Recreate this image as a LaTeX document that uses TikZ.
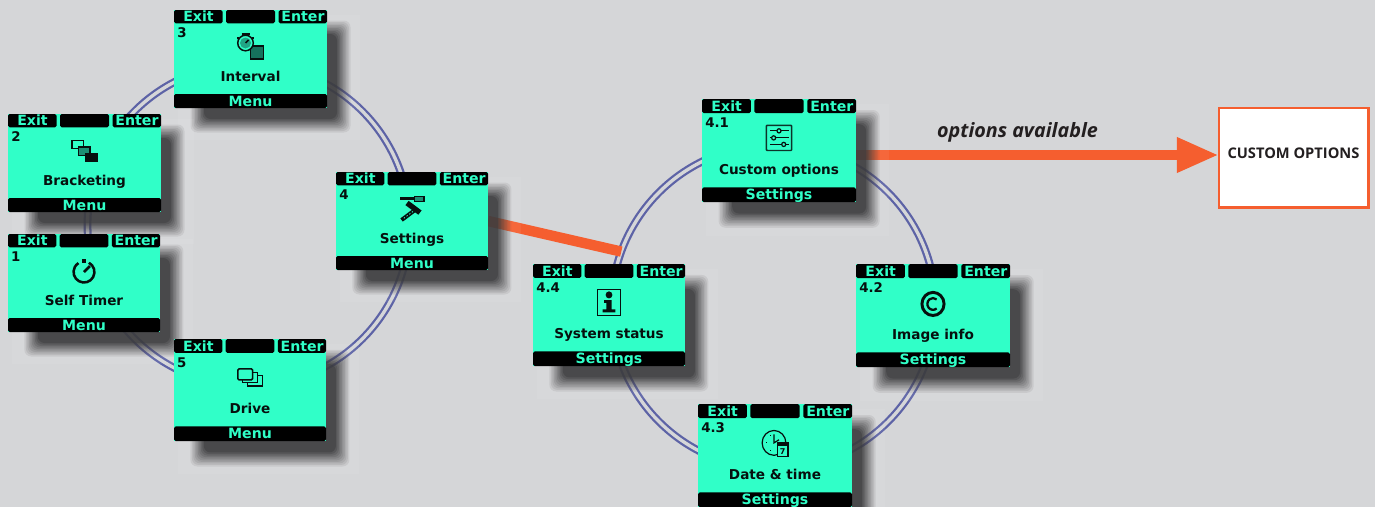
\documentclass[tikz,border=0pt]{standalone}
\usepackage{fontspec}
\setmainfont{DejaVu Sans}
\newfontfamily\humanfont{Open Sans}
\usetikzlibrary{arrows.meta}
\definecolor{pagegrey}{HTML}{D5D6D8}
\definecolor{lcd}{HTML}{30FFC8}
\definecolor{ink}{HTML}{06100E}
\definecolor{ringblue}{HTML}{5D63A6}
\definecolor{signal}{HTML}{F55E2F}
\definecolor{shadowgrey}{HTML}{3C3C3E}
\definecolor{speck}{HTML}{1C8F74}
\definecolor{textgrey}{HTML}{231F20}
\pgfdeclarelayer{links}
\pgfdeclarelayer{shade}
\pgfsetlayers{links,shade,main}
\tikzset{
  x=0.75pt,y=-0.75pt,
  screenbody/.style={fill=lcd,inner sep=0pt,outer sep=0pt,anchor=north west},
  softbar/.style={fill=black,rounded corners=1.3pt},
  softtext/.style={anchor=base,inner sep=0pt,text=lcd,font=\fontsize{10.6pt}{12pt}\bfseries},
  titletext/.style={anchor=base,inner sep=0pt,text=ink,font=\fontsize{10.2pt}{12pt}\bfseries},
  numtext/.style={anchor=base west,inner sep=0pt,text=ink,font=\fontsize{10pt}{11pt}\bfseries},
  ringnode/.style={circle,inner sep=0pt,outer sep=0pt,draw=ringblue,line width=1.7pt,double=pagegrey,double distance=2.5pt},
  halo/.style={fill=white,opacity=.06},
  blurstep/.style={fill=shadowgrey,rounded corners=5pt},
  iconline/.style={draw=ink,line width=1.1pt},
  iconthick/.style={draw=ink,line width=1.8pt},
  signalline/.style={draw=signal,line width=7.8pt},
  signalarrow/.style={draw=signal,line width=7.8pt,-{Triangle[length=31.5pt,width=24.5pt,fill=signal]}},
  targetbox/.style={draw=signal,fill=white,line width=2pt,inner sep=0pt,outer sep=0pt,minimum width=112pt,minimum height=74.5pt},
}
% id, x, y, w, h, number, title, footer, icon
\newcommand{\lcdscreen}[9]{%
  \begin{pgfonlayer}{shade}
    \begin{scope}[shift={(#2,#3)},xscale=#4/153,yscale=#5/98]
      \fill[halo] (4,5) rectangle (186,130);
      \foreach \s/\o in {6.5/.091,5/.1,3.5/.111,2/.125,.5/.143,-1/.167,-2.5/.2,-4/.25,-5.5/.333,-7/.5}{
        \fill[blurstep,opacity=\o] (23-\s,17-\s) rectangle (170+\s,116+\s);
      }
    \end{scope}
  \end{pgfonlayer}
  \node[screenbody,minimum width=#4*0.75pt,minimum height=#5*0.75pt] (#1) at (#2,#3) {};
  \begin{scope}[shift={(#2,#3)},xscale=#4/153,yscale=#5/98]
    \fill[softbar] (0,0) rectangle (48.6,13.4);
    \fill[softbar] (52,0) rectangle (101,13.4);
    \fill[softbar] (104.6,0) rectangle (153,13.4);
    \fill[softbar] (0,84) rectangle (153,98);
    \node[softtext] (#1exit) at (24.5,11.8) {Exit};
    \node[softtext] (#1enter) at (129,11.8) {Enter};
    \node[numtext] (#1num) at (3,27.3) {#6};
    \node[titletext] (#1title) at (76.5,71.5) {#7};
    \node[softtext] (#1foot) at (76.5,96) {#8};
    \begin{scope}[shift={(76.5,37)}]
      #9
    \end{scope}
  \end{scope}
}
\newcommand{\icontimer}{%
  \draw[line width=1.9pt,draw=ink] (0,1) ++(-62:10.5) arc[start angle=-62,end angle=238,radius=10.5];
  \draw[line width=1.9pt,draw=ink] (0,1) -- (6,-5);
  \fill[ink] (-1.6,-12.5) rectangle (1.6,-8.5);
}
\newcommand{\iconbracket}{%
  \draw[iconline,fill=lcd] (-12.3,-10.7) rectangle (-1,-2.3);
  \draw[iconline,fill=speck] (-6,-4) rectangle (5.7,4.3);
  \fill[ink] (0.7,2) rectangle (13,11);
}
\newcommand{\iconinterval}{%
  \fill[speck!80!black] (0,-1) rectangle (13,12);
  \draw[iconline] (0,-1) rectangle (13,12);
  \draw[iconline,fill=lcd] (-5,-4) circle[radius=7.8];
  \fill[speck!80!lcd] (-5,-4) circle[radius=5.5];
  \draw[iconline] (-5,-4) -- (-2,-7);
  \draw[iconline] (-9,-13) -- (-1,-13);
  \fill[ink] (-13.5,-10.5) rectangle (-11.5,-8.5);
  \fill[ink] (1.5,-10.5) rectangle (3.5,-8.5);
}
\newcommand{\iconsettings}{%
  \draw[iconthick] (-12,-10.7) -- (3,-10.7);
  \draw[iconline,fill=speck] (2.3,-12.3) rectangle (12.3,-7.6);
  \draw[line width=3pt,draw=ink] (3,1) -- (-10.5,11);
  \draw[line width=.6pt,draw=lcd,dash pattern=on 1pt off 1.5pt] (1,2.5) -- (-9.5,10.2);
  \draw[line width=4pt,draw=ink] (-5,-6) -- (8,3.6);
}
\newcommand{\icondrive}{%
  \draw[iconline,fill=lcd] (-2.7,-1.7) rectangle (12.7,8.3);
  \draw[iconline,fill=lcd] (-7.3,-5) rectangle (7.3,5);
  \draw[iconline,fill=lcd,rounded corners=1pt] (-12.3,-8.3) rectangle (2.7,2.3);
}
\newcommand{\iconcustom}{%
  \draw[iconline,draw=ink!85!lcd,rounded corners=.6pt] (-12.5,-12) rectangle (12.5,12);
  \draw[iconline,line width=.9pt] (-9,-6.7) -- (10,-6.7);
  \draw[iconline,line width=.9pt] (-9,0) -- (10,0);
  \draw[iconline,line width=.9pt] (-9,6.2) -- (10,6.2);
  \draw[iconline,line width=.9pt,fill=lcd] (0,-6.7) circle[radius=2];
  \draw[iconline,line width=.9pt,fill=lcd] (-5.3,0) circle[radius=2];
  \draw[iconline,line width=.9pt,fill=lcd] (4.7,6.2) circle[radius=2];
}
\newcommand{\iconstatus}{%
  \draw[iconline] (-11.5,-12.5) rectangle (11.5,12.5);
  \fill[ink] (0,-7.3) circle[radius=3.4];
  \fill[ink] (-5,-2.3) -- (2.7,-2.3) -- (2.7,6.5) -- (6.5,6.5) -- (6.5,9.5) -- (-6.5,9.5) -- (-6.5,6.5) -- (-2.7,6.5) -- (-2.7,0.3) -- (-5,0.3) -- cycle;
}
\newcommand{\iconcopy}{%
  \draw[line width=2.2pt,draw=ink] (0,1) circle[radius=11];
  \draw[line width=1.7pt,draw=ink] (0,1) ++(50:5.6) arc[start angle=50,end angle=310,radius=5.6];
}
\newcommand{\icondate}{%
  \draw[iconline,line width=.9pt] (-1,0) circle[radius=11.8];
  \draw[iconline,line width=.9pt] (-1,-8) -- (-1,0) -- (4,-3);
  \fill[ink] (-9.3,-0.5) rectangle (-8.3,0.5);
  \fill[ink] (-5,-7.5) rectangle (-4,-6.5);
  \fill[ink] (-5,6.5) rectangle (-4,7.5);
  \draw[iconline,fill=lcd] (2.3,0.3) rectangle (12.7,12.7);
  \fill[ink] (2.3,0.3) rectangle (12.7,2.8);
  \node[inner sep=0pt,text=ink,font=\fontsize{6pt}{7pt}\bfseries] (calseven) at (7.5,7.8) {7};
}
\begin{document}
\begin{tikzpicture}
  \useasboundingbox (0,0) rectangle (1375,507);
  \begin{pgfonlayer}{links}
    \fill[pagegrey] (0,0) rectangle (1375,507);
    \node[ringnode,minimum size=241.5pt] (ringleft) at (248.5,225) {};
    \node[ringnode,minimum size=243pt] (ringright) at (773.5,307) {};
  \end{pgfonlayer}

  \lcdscreen{scrthree}{174}{10}{153}{98}{3}{Interval}{Menu}{\iconinterval}
  \lcdscreen{scrtwo}{8}{114}{153}{98}{2}{Bracketing}{Menu}{\iconbracket}
  \lcdscreen{scrone}{8}{234}{152}{98}{1}{Self Timer}{Menu}{\icontimer}
  \lcdscreen{scrfour}{336}{172}{152}{98}{4}{Settings}{Menu}{\iconsettings}
  \lcdscreen{scrfive}{174}{339}{152}{102}{5}{Drive}{Menu}{\icondrive}
  \lcdscreen{scrfourone}{702}{99}{154}{103}{4.1}{Custom options}{Settings}{\iconcustom}
  \lcdscreen{scrfourfour}{533}{264}{152}{102}{4.4}{System status}{Settings}{\iconstatus}
  \lcdscreen{scrfourtwo}{856}{264}{154}{103}{4.2}{Image info}{Settings}{\iconcopy}
  \lcdscreen{scrfourthree}{698}{404}{154}{103}{4.3}{Date \& time}{Settings}{\icondate}

  \node[targetbox] (target) at (1293.5,157.5) {};
  \node[inner sep=0pt,text=textgrey,font=\humanfont\fontsize{11pt}{13pt}\bfseries] (targetlabel) at (1293.5,153.5) {CUSTOM OPTIONS};
  \node[inner sep=0pt,text=textgrey,font=\humanfont\fontsize{14.8pt}{17pt}\bfseries\itshape] (optlabel) at (1017.5,132) {options available};
  \coordinate (arrowtip) at (target.west |- 0,155);

  \begin{pgfonlayer}{links}
    \draw[signalline] (scrfour.east) -- (ringright.160);
    \draw[signalarrow] (scrfourone.east |- arrowtip) -- (arrowtip);
  \end{pgfonlayer}
\end{tikzpicture}
\end{document}
